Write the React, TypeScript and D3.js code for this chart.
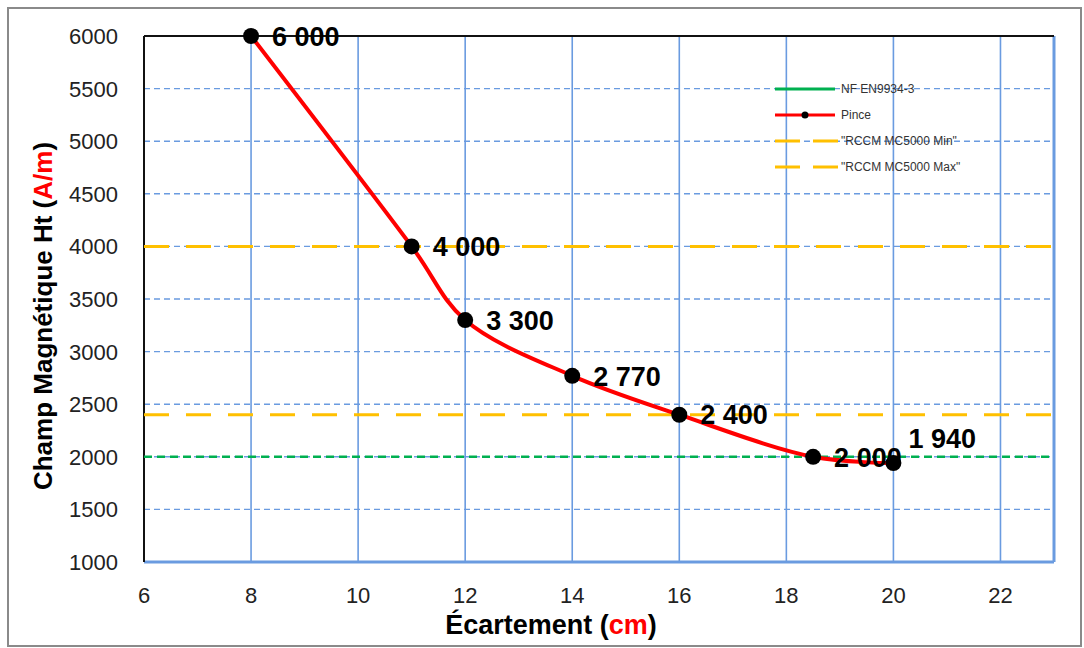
import React from "react";
import * as d3 from "d3";

const ecartement = [8, 11, 12, 14, 16, 18.5, 20];
const champ = [6000, 4000, 3300, 2770, 2400, 2000, 1940];
const pointLabels = ["6 000", "4 000", "3 300", "2 770", "2 400", "2 000", "1 940"];
const xTicks = [6, 8, 10, 12, 14, 16, 18, 20, 22];
const yTicks = [1000, 1500, 2000, 2500, 3000, 3500, 4000, 4500, 5000, 5500, 6000];
const normeNF = 2000;
const rccmMin = 2400;
const rccmMax = 4000;
const legendLabels = ["NF EN9934-3", "Pince", "\"RCCM MC5000 Min\"", "\"RCCM MC5000 Max\""];

const W = 1084;
const H = 648;
const margin = { left: 144, right: 30, top: 36, bottom: 86 };
const gridBlue = "#6a9be0";
const gold = "#ffc000";
const green = "#00b050";

export default function App() {
  const x = d3.scaleLinear().domain([6, 23]).range([margin.left, W - margin.right]);
  const y = d3.scaleLinear().domain([1000, 6000]).range([H - margin.bottom, margin.top]);
  const pts = ecartement.map((e, i) => [e, champ[i]] as [number, number]);
  const line = d3
    .line<[number, number]>()
    .x((d) => x(d[0]))
    .y((d) => y(d[1]))
    .curve(d3.curveCatmullRom.alpha(0.5));

  const x0 = x(6);
  const x1 = x(23);
  const y0 = y(1000);
  const y1 = y(6000);
  const font = "'Liberation Sans', Arial, sans-serif";

  return (
    <svg
      width={W}
      height={H}
      style={{ position: "absolute", left: 0, top: 0, background: "#fff" }}
      fontFamily={font}
    >
      <rect x={8} y={8} width={1073} height={638} fill="#fff" stroke="#8a8a8a" strokeWidth={2} />

      {/* grid */}
      {yTicks.slice(1, -1).map((t) => (
        <line key={"h" + t} x1={x0} x2={x1} y1={y(t)} y2={y(t)} stroke={gridBlue} strokeWidth={1.4} strokeDasharray="6 4" />
      ))}
      {xTicks.slice(1).map((t) => (
        <line key={"v" + t} x1={x(t)} x2={x(t)} y1={y1} y2={y0} stroke={gridBlue} strokeWidth={1.6} />
      ))}

      {/* frame */}
      <line x1={x1} x2={x1} y1={y1} y2={y0} stroke={gridBlue} strokeWidth={3} />
      <line x1={x0} x2={x1} y1={y0} y2={y0} stroke={gridBlue} strokeWidth={3} />
      <line x1={x0} x2={x1} y1={y1} y2={y1} stroke="#111" strokeWidth={2} />
      <line x1={x0} x2={x0} y1={y1} y2={y0} stroke="#111" strokeWidth={2} />

      {/* reference lines */}
      <line x1={x0} x2={x1} y1={y(rccmMax)} y2={y(rccmMax)} stroke={gold} strokeWidth={3} strokeDasharray="25 17" />
      <line x1={x0} x2={x1} y1={y(rccmMin)} y2={y(rccmMin)} stroke={gold} strokeWidth={3} strokeDasharray="25 17" />
      <line x1={x0} x2={x1} y1={y(normeNF)} y2={y(normeNF)} stroke={green} strokeWidth={2.5} strokeDasharray="8 5" />

      {/* series */}
      <path d={line(pts) || ""} fill="none" stroke="#ff0000" strokeWidth={4} />
      {pts.map((p, i) => (
        <circle key={"c" + i} cx={x(p[0])} cy={y(p[1])} r={8} fill="#000" />
      ))}
      {pts.map((p, i) => {
        const last = i === pts.length - 1;
        return (
          <text
            key={"l" + i}
            x={x(p[0]) + (last ? 15 : 21)}
            y={y(p[1]) + (last ? -25 : 0)}
            dy="0.36em"
            fontSize={27}
            fontWeight="bold"
            fill="#000"
          >
            {pointLabels[i]}
          </text>
        );
      })}

      {/* axes labels */}
      {yTicks.map((t) => (
        <text key={"yt" + t} x={x0 - 26} y={y(t)} dy="0.36em" textAnchor="end" fontSize={22} fill="#222">
          {t}
        </text>
      ))}
      {xTicks.map((t) => (
        <text key={"xt" + t} x={x(t)} y={y0 + 33} dy="0.36em" textAnchor="middle" fontSize={22} fill="#222">
          {t}
        </text>
      ))}

      <text x={551} y={634} textAnchor="middle" fontSize={27} fontWeight="bold" fill="#000">
        Écartement (<tspan fill="#ff0000">cm</tspan>)
      </text>
      <text
        transform={`translate(52,316) rotate(-90)`}
        textAnchor="middle"
        fontSize={26}
        fontWeight="bold"
        fill="#000"
      >
        Champ Magnétique Ht (<tspan fill="#ff0000">A/m</tspan>)
      </text>

      {/* legend */}
      <g fontSize={12} fill="#333">
        <line x1={775} x2={835} y1={89} y2={89} stroke={green} strokeWidth={3} />
        <text x={841} y={89} dy="0.36em">{legendLabels[0]}</text>
        <line x1={775} x2={835} y1={115} y2={115} stroke="#ff0000" strokeWidth={3} />
        <circle cx={805} cy={115} r={3.5} fill="#000" />
        <text x={841} y={115} dy="0.36em">{legendLabels[1]}</text>
        <line x1={775} x2={838} y1={141} y2={141} stroke={gold} strokeWidth={3} strokeDasharray="25 13" />
        <text x={841} y={141} dy="0.36em">{legendLabels[2]}</text>
        <line x1={775} x2={838} y1={167} y2={167} stroke={gold} strokeWidth={3} strokeDasharray="25 13" />
        <text x={841} y={167} dy="0.36em">{legendLabels[3]}</text>
      </g>
    </svg>
  );
}
